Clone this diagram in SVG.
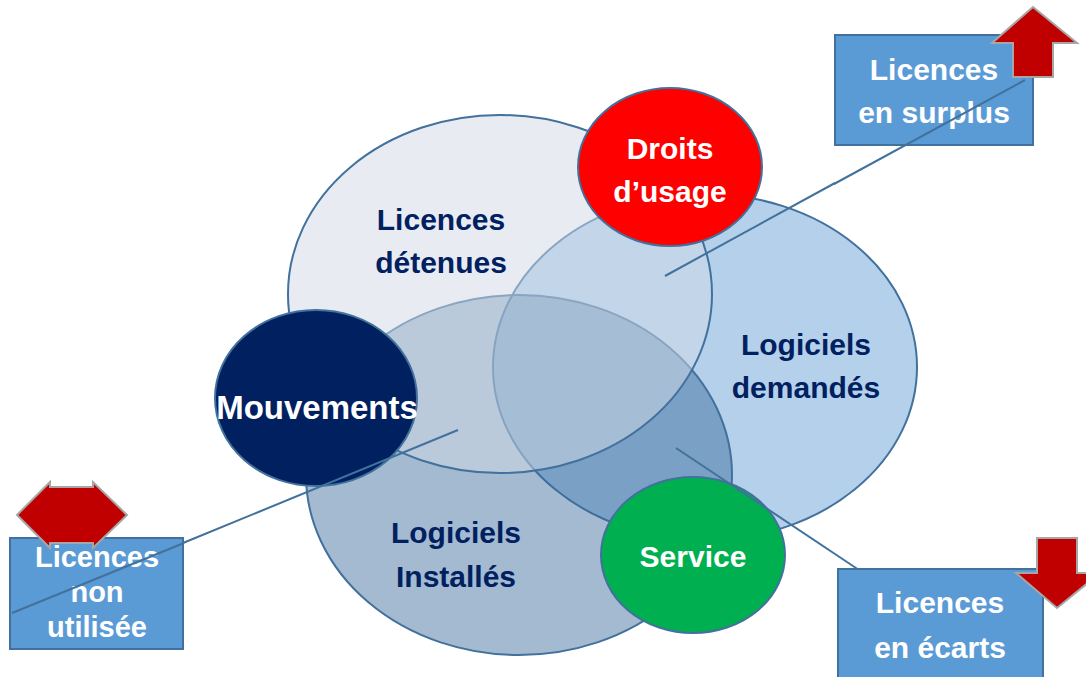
<svg xmlns="http://www.w3.org/2000/svg" width="1086" height="677" viewBox="0 0 1086 677">
<style>
.t{font-family:"Liberation Sans",Arial,sans-serif;font-weight:bold;text-anchor:middle}
.dk{fill:#002060;font-size:30px}
.wh{fill:#FFFFFF;font-size:30px}
.ol{stroke:#41719C;stroke-width:2}
.box{fill:#5B9BD5;stroke:#41719C;stroke-width:2}
.arr{fill:#C00000;stroke:#A6A6A6;stroke-width:2}
.ln{stroke:#41719C;stroke-width:2;fill:none}
</style>
<rect width="1086" height="677" fill="#FFFFFF"/>
<g id="logiciels-demandes">
<ellipse class="ol" cx="705" cy="367" rx="212" ry="173" fill="#B5D0EA"/>
</g>
<g id="logiciels-installes">
<ellipse class="ol" cx="519" cy="475" rx="213" ry="180" fill="#37689A" fill-opacity="0.46"/>
</g>
<g id="licences-detenues">
<ellipse class="ol" cx="500" cy="294" rx="212" ry="179" fill="#D2D9E6" fill-opacity="0.5"/>
</g>
<g id="labels-venn">
<text class="t dk" x="441" y="230">Licences</text>
<text class="t dk" x="441" y="273">détenues</text>
<text class="t dk" x="806" y="355">Logiciels</text>
<text class="t dk" x="806" y="398">demandés</text>
<text class="t dk" x="456" y="543">Logiciels</text>
<text class="t dk" x="456" y="587">Installés</text>
</g>
<g id="mouvements">
<ellipse class="ol" cx="316" cy="398" rx="101" ry="88" fill="#002060"/>
<text class="t wh" x="317" y="419" style="font-size:33px">Mouvements</text>
</g>
<g id="droits-usage">
<ellipse class="ol" cx="670" cy="167" rx="92" ry="79" fill="#FF0000"/>
<text class="t wh" x="670" y="159">Droits</text>
<text class="t wh" x="670" y="202">d’usage</text>
</g>
<g id="service">
<ellipse class="ol" cx="693" cy="555" rx="92" ry="78" fill="#00B050"/>
<text class="t wh" x="693" y="567">Service</text>
</g>
<g id="connectors">
<line class="ln" x1="665" y1="276" x2="835" y2="183"/>
<line class="ln" x1="458" y1="430" x2="183" y2="543"/>
<line class="ln" x1="676" y1="448" x2="862" y2="572"/>
</g>
<g id="licences-surplus">
<rect class="box" x="835" y="35" width="198" height="110"/>
<text class="t wh" x="934" y="80">Licences</text>
<text class="t wh" x="934" y="123">en surplus</text>
<line class="ln" x1="834" y1="184" x2="1025" y2="80"/>
<polygon class="arr" points="1033,7 1077,43 1053,43 1053,77 1013,77 1013,43 992,43"/>
</g>
<g id="licences-non-utilisee">
<rect class="box" x="10" y="538" width="173" height="111"/>
<polygon class="arr" points="17,515 50,482 50,487 93,487 93,482 127,515 93,548 93,543 50,543 50,548"/>
<text class="t wh" x="97" y="567" style="font-size:29px">Licences</text>
<text class="t wh" x="97" y="602" style="font-size:29px">non</text>
<text class="t wh" x="97" y="637" style="font-size:29px">utilisée</text>
<line class="ln" x1="184" y1="543" x2="12" y2="613"/>
</g>
<g id="licences-ecarts">
<rect class="box" x="838" y="569" width="205" height="120"/>
<polygon class="arr" points="1037,538 1077,538 1077,573 1100,573 1057,608 1016,573 1037,573"/>
<text class="t wh" x="940" y="613">Licences</text>
<text class="t wh" x="940" y="658">en écarts</text>
</g>
</svg>
